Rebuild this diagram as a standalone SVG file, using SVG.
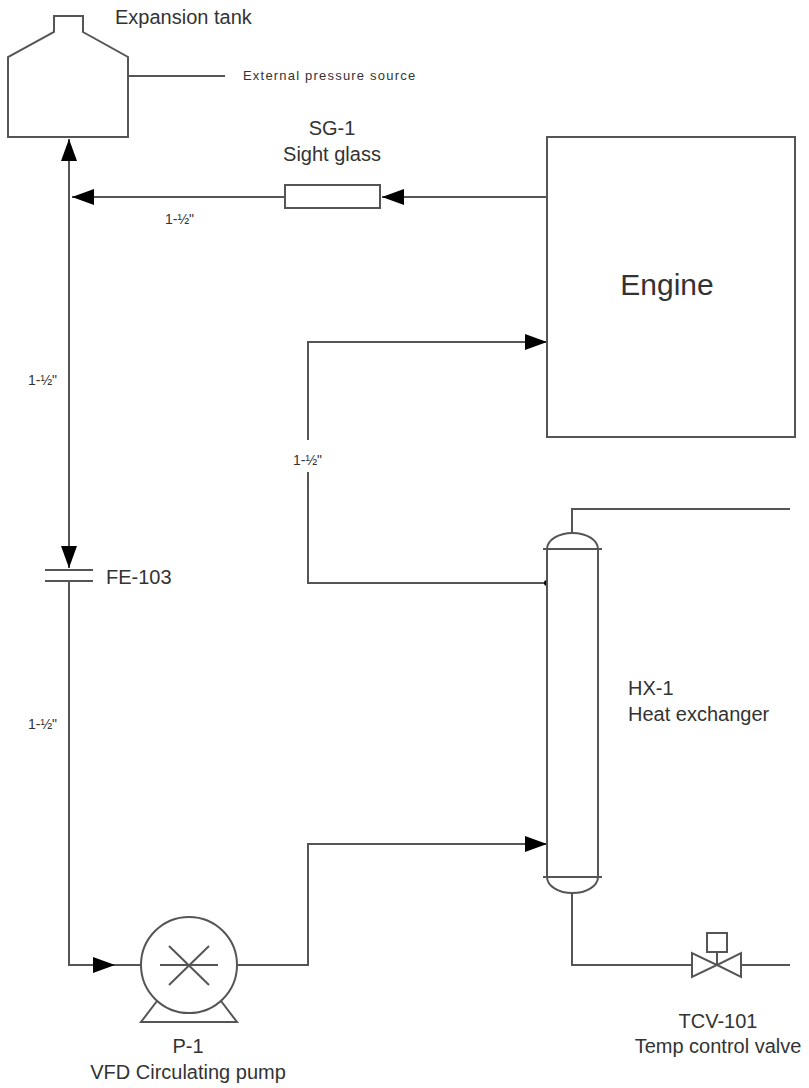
<svg xmlns="http://www.w3.org/2000/svg" width="809" height="1088" viewBox="0 0 809 1088">
<style>
.ln{fill:none;stroke:#555;stroke-width:2;stroke-linejoin:miter}
.eq{fill:#fff;stroke:#555;stroke-width:2}
.t{font-family:"Liberation Sans",Arial,sans-serif;fill:#333;font-size:20px}
.s{font-family:"Liberation Sans",Arial,sans-serif;fill:#333;font-size:14px}
</style>
<defs>
<marker id="ar" markerUnits="userSpaceOnUse" markerWidth="22" markerHeight="16" refX="22" refY="8" orient="auto">
<path d="M0,0 L22,8 L0,16 Z" fill="#000"/>
</marker>
</defs>
<rect width="809" height="1088" fill="#fff"/>
<g id="connectors">
<line class="ln" x1="547" y1="197" x2="382" y2="197" marker-end="url(#ar)"/>
<line class="ln" x1="285" y1="197" x2="72" y2="197" marker-end="url(#ar)"/>
<line class="ln" x1="69" y1="197" x2="69" y2="139" marker-end="url(#ar)"/>
<line class="ln" x1="69" y1="197" x2="69" y2="568" marker-end="url(#ar)"/>
<path class="ln" d="M69,581 V965 H115" marker-end="url(#ar)"/>
<line class="ln" x1="115" y1="965" x2="141" y2="965"/>
<path class="ln" d="M237,965 H308 V844 H547" marker-end="url(#ar)"/>
<path class="ln" d="M547,583 H308 V342 H547" marker-end="url(#ar)"/>
<circle cx="547" cy="583" r="3" fill="#000"/>
<path class="ln" d="M572,533 V509 H790"/>
<path class="ln" d="M572,893 V965 H692"/>
<line class="ln" x1="741" y1="965" x2="790" y2="965"/>
<line class="ln" x1="128" y1="76" x2="225" y2="76"/>
<rect x="286" y="440" width="40" height="32" fill="#fff"/>
<text class="s" x="293" y="465">1-½"</text>
<text class="s" x="165" y="224">1-½"</text>
<text class="s" x="28" y="385">1-½"</text>
<text class="s" x="28" y="729">1-½"</text>
</g>
<g id="tank">
<polygon class="eq" points="8,137 8,57 54,32 54,16 83,16 83,32 128,57 128,137"/>
<text class="t" x="115" y="24">Expansion tank</text>
<text class="s" x="243" y="80" style="font-size:13px;letter-spacing:1.2px">External pressure source</text>
</g>
<g id="sight-glass">
<rect class="eq" x="285" y="185" width="95" height="23"/>
<text class="t" x="332" y="135" text-anchor="middle">SG-1</text>
<text class="t" x="332" y="161" text-anchor="middle">Sight glass</text>
</g>
<g id="engine">
<rect class="eq" x="547" y="137" width="248" height="300"/>
<text class="t" x="667" y="295" text-anchor="middle" style="font-size:30px">Engine</text>
</g>
<g id="fe-103">
<line class="ln" x1="45" y1="570" x2="93" y2="570"/>
<line class="ln" x1="45" y1="581" x2="93" y2="581"/>
<text class="t" x="106" y="584">FE-103</text>
</g>
<g id="hx-1">
<path class="eq" d="M547,549 A25.5,16 0 0 1 598,549 V877 A25.5,16 0 0 1 547,877 Z"/>
<line class="ln" x1="543" y1="549" x2="602" y2="549"/>
<line class="ln" x1="543" y1="877" x2="602" y2="877"/>
<text class="t" x="628" y="695">HX-1</text>
<text class="t" x="628" y="721">Heat exchanger</text>
</g>
<g id="p-1">
<circle class="eq" cx="189" cy="965" r="48"/>
<line class="ln" x1="160" y1="965" x2="218" y2="965"/>
<line class="ln" x1="169" y1="946" x2="209" y2="985"/>
<line class="ln" x1="169" y1="985" x2="209" y2="946"/>
<path class="ln" d="M157,1001 L141,1022 H237 L221,1001"/>
<text class="t" x="188" y="1053" text-anchor="middle">P-1</text>
<text class="t" x="188" y="1079" text-anchor="middle">VFD Circulating pump</text>
</g>
<g id="tcv-101">
<polygon class="eq" points="692,953 692,977 717,965"/>
<polygon class="eq" points="741,953 741,977 717,965"/>
<line class="ln" x1="717" y1="965" x2="717" y2="952"/>
<rect class="eq" x="707" y="933" width="20" height="19"/>
<text class="t" x="718" y="1028" text-anchor="middle">TCV-101</text>
<text class="t" x="718" y="1053" text-anchor="middle">Temp control valve</text>
</g>
</svg>
